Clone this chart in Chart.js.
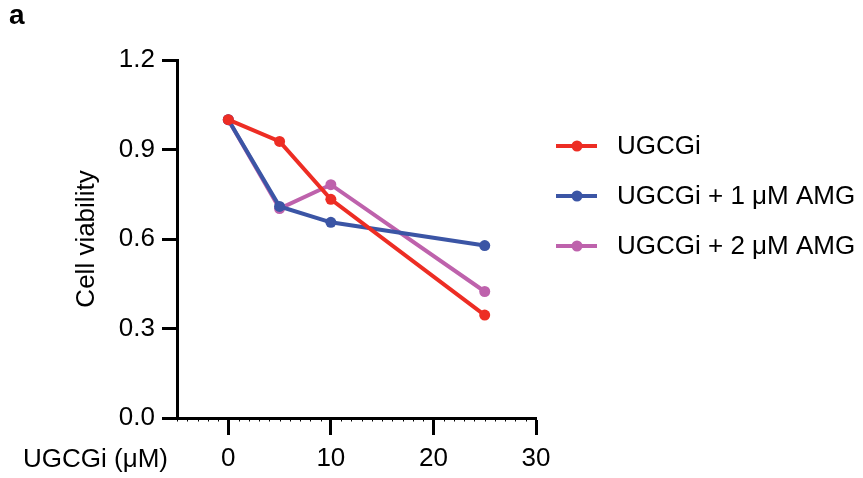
<!DOCTYPE html>
<html>
<head>
<meta charset="utf-8">
<script src="https://cdn.jsdelivr.net/npm/chart.js@4"></script>
<style>
  html, body { margin: 0; padding: 0; background: #ffffff; }
  canvas { display: block; }
</style>
</head>
<body>
<canvas id="chart" width="863" height="478"></canvas>
<script>
// concentrations (uM)
const doses = [0, 5, 10, 25];
const ugcgi = [1.0, 0.927, 0.733, 0.345];
const ugcgiAmg1 = [1.0, 0.709, 0.656, 0.578];
const ugcgiAmg2 = [1.0, 0.702, 0.782, 0.424];
const seriesNames = ['UGCGi', 'UGCGi + 1 \u03bcM AMG', 'UGCGi + 2 \u03bcM AMG'];
const seriesColors = ['#ED2D24', '#3B55A5', '#BE62AC'];
const xTicks = [0, 10, 20, 30];
const yTicks = [0, 0.3, 0.6, 0.9, 1.2];

const FONT = '"Liberation Sans", Arial, Helvetica, sans-serif';

function toPoints(values) {
    return doses.map((d, i) => ({ x: d, y: values[i] }));
}

function makeDataset(values, i) {
    return {
        label: seriesNames[i],
        data: toPoints(values),
        borderColor: seriesColors[i],
        backgroundColor: seriesColors[i],
        borderWidth: 4,
        pointRadius: 5.5,
        pointBorderWidth: 0,
        pointHoverRadius: 5.5,
        tension: 0
    };
}

// extra drawing: minor x ticks, axis caption, panel letter, legend
const extrasPlugin = {
    id: 'extras',
    afterDraw(chart) {
        const ctx = chart.ctx;
        const xs = chart.scales.x;
        const bottom = chart.chartArea.bottom;
        ctx.save();

        // minor ticks every 1 uM
        ctx.strokeStyle = '#000';
        ctx.lineWidth = 1;
        for (let v = -5; v <= 30; v++) {
            if (xTicks.includes(v)) continue;
            const px = Math.round(xs.getPixelForValue(v)) + 0.5;
            ctx.beginPath();
            ctx.moveTo(px, bottom);
            ctx.lineTo(px, bottom + 3.5);
            ctx.stroke();
        }

        // x caption to the left of the tick labels
        ctx.fillStyle = '#000';
        ctx.font = '26px ' + FONT;
        ctx.textAlign = 'right';
        ctx.textBaseline = 'middle';
        ctx.fillText('UGCGi (\u03bcM)', 168, 460);

        // panel letter
        ctx.font = 'bold 28px ' + FONT;
        ctx.textAlign = 'left';
        ctx.textBaseline = 'alphabetic';
        ctx.fillText('a', 9, 24);

        // legend
        const rowY = [146, 196, 246];
        chart.data.datasets.forEach((ds, i) => {
            const y = rowY[i];
            ctx.strokeStyle = ds.borderColor;
            ctx.lineWidth = 4;
            ctx.beginPath();
            ctx.moveTo(556, y);
            ctx.lineTo(597, y);
            ctx.stroke();
            ctx.fillStyle = ds.borderColor;
            ctx.beginPath();
            ctx.arc(577, y, 5.5, 0, Math.PI * 2);
            ctx.fill();
            ctx.fillStyle = '#000';
            ctx.font = '26px ' + FONT;
            ctx.textAlign = 'left';
            ctx.textBaseline = 'middle';
            ctx.fillText(ds.label, 617, y + 1);
        });

        ctx.restore();
    }
};

new Chart(document.getElementById('chart'), {
    type: 'line',
    data: {
        datasets: [
            makeDataset(ugcgi, 0),
            makeDataset(ugcgiAmg1, 1),
            makeDataset(ugcgiAmg2, 2)
        ]
    },
    options: {
        responsive: false,
        devicePixelRatio: 1,
        animation: false,
        layout: {
            padding: { top: 60, right: 327, left: 0, bottom: 0 }
        },
        plugins: {
            legend: { display: false },
            tooltip: { enabled: false }
        },
        scales: {
            x: {
                type: 'linear',
                min: -5,
                max: 30,
                afterBuildTicks: scale => {
                    scale.ticks = xTicks.map(v => ({ value: v }));
                },
                afterFit: scale => { scale.height = 60; },
                border: { display: true, color: '#000', width: 3 },
                grid: {
                    drawOnChartArea: false,
                    drawTicks: true,
                    tickLength: 17,
                    tickWidth: 3,
                    tickColor: '#000'
                },
                ticks: {
                    color: '#000',
                    padding: 8,
                    maxRotation: 0,
                    autoSkip: false,
                    font: { family: FONT, size: 26 }
                }
            },
            y: {
                type: 'linear',
                min: 0,
                max: 1.2,
                afterBuildTicks: scale => {
                    scale.ticks = yTicks.map(v => ({ value: v }));
                },
                afterFit: scale => { scale.width = 177; },
                border: { display: true, color: '#000', width: 3 },
                grid: {
                    drawOnChartArea: false,
                    drawTicks: true,
                    tickLength: 15,
                    tickWidth: 3,
                    tickColor: '#000'
                },
                ticks: {
                    color: '#000',
                    padding: 7,
                    font: { family: FONT, size: 26 },
                    callback: v => Number(v).toFixed(1)
                },
                title: {
                    display: true,
                    text: 'Cell viability',
                    color: '#000',
                    font: { family: FONT, size: 26 },
                    padding: { top: 71, bottom: 0 }
                }
            }
        }
    },
    plugins: [extrasPlugin]
});
</script>
</body>
</html>
